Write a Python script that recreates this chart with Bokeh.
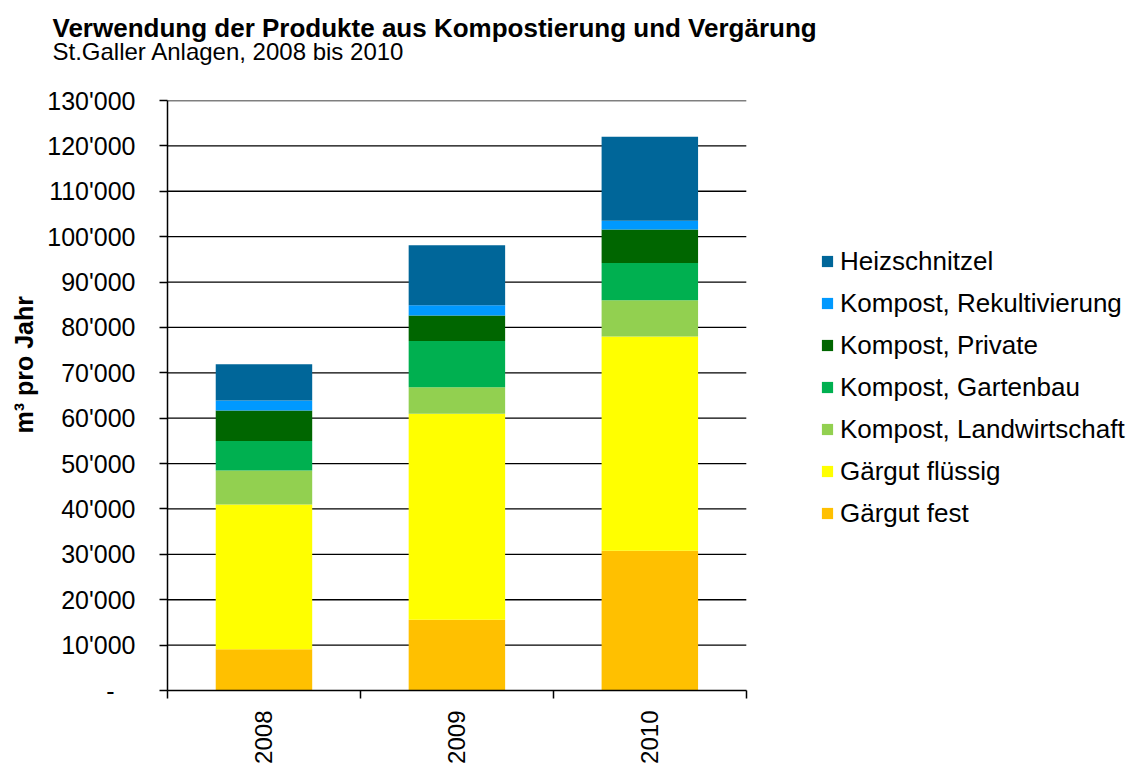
import math
from bokeh.plotting import figure
from bokeh.layouts import column
from bokeh.models import ColumnDataSource, FixedTicker, Legend, LegendItem, Range1d, Title, Label
from bokeh.embed import file_html
from bokeh.resources import INLINE

# ---- data ----
years = ["2008", "2009", "2010"]
gaergut_fest = [9100, 15600, 30800]
gaergut_fluessig = [31900, 45400, 47200]
kompost_landwirtschaft = [7500, 5800, 8000]
kompost_gartenbau = [6500, 10200, 8200]
kompost_private = [6700, 5600, 7400]
kompost_rekultivierung = [2200, 2300, 1900]
heizschnitzel = [8000, 13200, 18500]

series_names = ["Gärgut fest", "Gärgut flüssig", "Kompost, Landwirtschaft",
                "Kompost, Gartenbau", "Kompost, Private",
                "Kompost, Rekultivierung", "Heizschnitzel"]
y_ticks = [0, 10000, 20000, 30000, 40000, 50000, 60000, 70000,
           80000, 90000, 100000, 110000, 120000, 130000]
y_tick_labels = ["-\u00a0\u00a0\u00a0", "10'000", "20'000", "30'000", "40'000", "50'000", "60'000",
                 "70'000", "80'000", "90'000", "100'000", "110'000", "120'000", "130'000"]

title = "Verwendung der Produkte aus Kompostierung und Vergärung"
subtitle = "St.Galler Anlagen, 2008 bis 2010"
y_title = "m³ pro Jahr"

colors = ["#FFC000", "#FFFF00", "#92D050", "#00B050", "#006600", "#0099FF", "#006699"]

FONT = "Liberation Sans"

# ---- layout (pixels) ----
W, H = 1132, 766
HEAD_H = 80
LEFT, TOP, BOTTOM = 165, 20, 76
PLOT_W = 580                      # width of the category area
FRAME_W = W - LEFT
n = len(years)
x_end = n * FRAME_W / PLOT_W      # frame extends under the legend

# ---- header with title and subtitle ----
head = figure(width=W, height=HEAD_H, x_range=Range1d(0, 1), y_range=Range1d(0, 1),
              output_backend="svg", toolbar_location=None,
              x_axis_location=None, y_axis_location=None,
              min_border_left=0, min_border_right=0, min_border_top=0, min_border_bottom=0)
head.frame_align = False
head.outline_line_color = None
head.xgrid.visible = False
head.ygrid.visible = False
head.background_fill_color = "white"
head.border_fill_color = "white"
head.add_layout(Label(x=52, y=HEAD_H - 27, x_units="screen", y_units="screen", text=title,
                      text_font=FONT, text_font_size="26px", text_font_style="bold",
                      text_color="black", text_baseline="alphabetic", text_align="left"))
head.add_layout(Label(x=52, y=HEAD_H - 51, x_units="screen", y_units="screen", text=subtitle,
                      text_font=FONT, text_font_size="24px", text_font_style="normal",
                      text_color="black", text_baseline="alphabetic", text_align="left"))

# ---- main chart ----
keys = ["fest", "fluessig", "landw", "garten", "private", "rekult", "heiz"]
data = dict(zip(keys, [gaergut_fest, gaergut_fluessig, kompost_landwirtschaft,
                       kompost_gartenbau, kompost_private, kompost_rekultivierung,
                       heizschnitzel]))
data["x"] = [i + 0.5 for i in range(n)]
source = ColumnDataSource(data)

p = figure(width=W, height=H - HEAD_H,
           x_range=Range1d(0, x_end), y_range=Range1d(y_ticks[0], y_ticks[-1]),
           output_backend="svg", toolbar_location=None,
           min_border_left=LEFT, min_border_right=0,
           min_border_top=TOP, min_border_bottom=BOTTOM)
p.frame_align = False
p.outline_line_color = None
p.background_fill_color = "white"
p.border_fill_color = "white"

# horizontal gridlines only across the category area
p.xgrid.visible = False
p.ygrid.visible = False
grid_src = ColumnDataSource(dict(y=y_ticks[1:], x0=[0] * (len(y_ticks) - 1),
                                 x1=[n] * (len(y_ticks) - 1)))
p.segment(x0="x0", x1="x1", y0="y", y1="y", source=grid_src,
          line_color="black", line_width=1.3)

renderers = p.vbar_stack(keys, x="x", width=0.5, color=colors, line_width=0, source=source)

# y axis
p.yaxis.ticker = FixedTicker(ticks=y_ticks)
p.yaxis.major_label_overrides = {t: l for t, l in zip(y_ticks, y_tick_labels)}
p.yaxis.major_tick_out = 8
p.yaxis.major_tick_in = 0
p.yaxis.minor_tick_out = 0
p.yaxis.minor_tick_in = 0
p.yaxis.axis_line_width = 1.5
p.yaxis.axis_line_color = "black"
p.yaxis.major_tick_line_color = "black"
p.yaxis.major_tick_line_width = 1.5
p.yaxis.major_label_text_font = FONT
p.yaxis.major_label_text_font_size = "25px"
p.yaxis.major_label_text_color = "black"
p.yaxis.major_label_standoff = 24

# x axis
p.xaxis.bounds = (0, n)
p.xaxis.ticker = FixedTicker(ticks=data["x"], minor_ticks=list(range(n + 1)))
p.xaxis.major_label_overrides = {x: y for x, y in zip(data["x"], years)}
p.xaxis.major_tick_out = 0
p.xaxis.major_tick_in = 0
p.xaxis.minor_tick_out = 8
p.xaxis.minor_tick_in = 0
p.xaxis.minor_tick_line_color = "black"
p.xaxis.minor_tick_line_width = 1.5
p.xaxis.axis_line_width = 1.5
p.xaxis.axis_line_color = "black"
p.xaxis.major_label_orientation = math.pi / 2
p.xaxis.major_label_text_font = FONT
p.xaxis.major_label_text_font_size = "24px"
p.xaxis.major_label_text_color = "black"
p.xaxis.major_label_standoff = 12

# legend (inside the frame, right of the bars)
items = [LegendItem(label=nm, renderers=[r]) for nm, r in zip(series_names, renderers)][::-1]
legend = Legend(items=items, location=(653, 156), orientation="vertical",
                glyph_width=14, glyph_height=14, label_height=42, spacing=0,
                padding=0, margin=0, label_standoff=6,
                label_text_font=FONT, label_text_font_size="26px",
                label_text_color="black",
                border_line_color=None, background_fill_alpha=0)
p.add_layout(legend, "center")

# y-axis title
p.add_layout(Title(text=y_title, text_font=FONT, text_font_size="25px",
                   text_font_style="bold", text_color="black",
                   align="left", offset=257, standoff=14), "left")

layout = column(head, p, spacing=0)
open("out.html", "w").write(file_html(layout, INLINE))
